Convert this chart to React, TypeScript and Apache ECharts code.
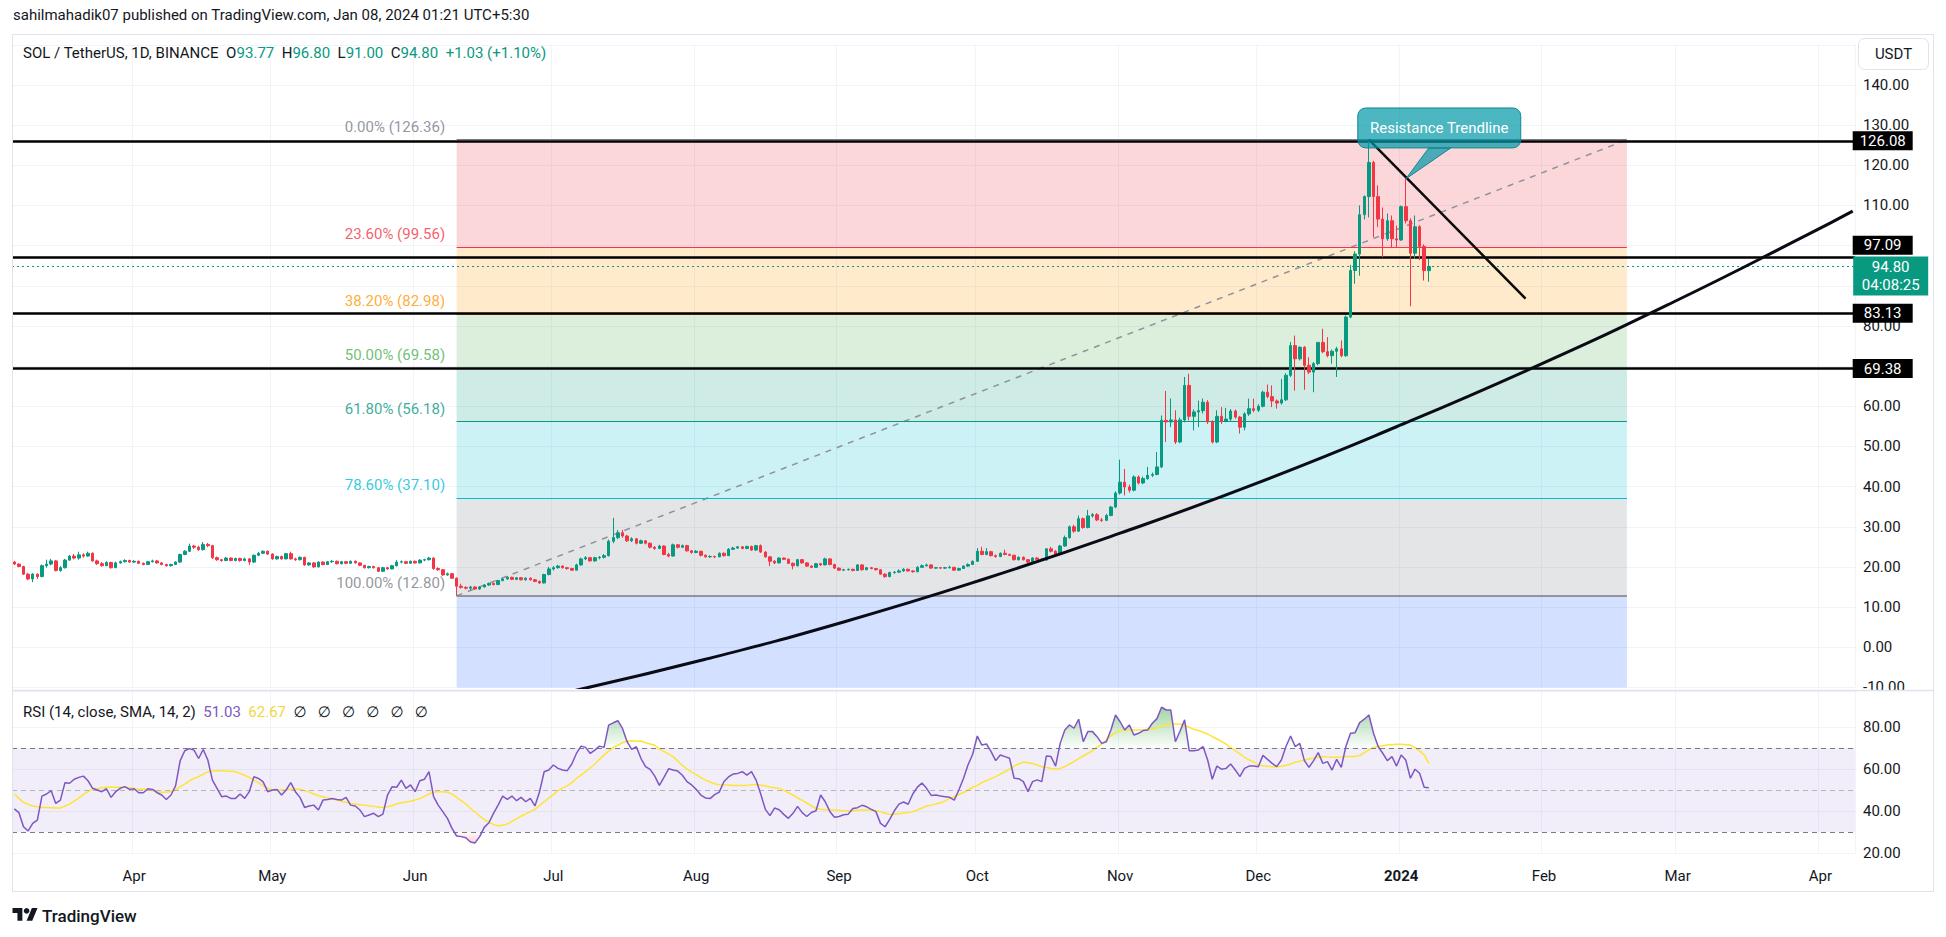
import React, { useEffect, useRef } from 'react';
import * as echarts from 'echarts';

const FONT = 'Roboto, "Noto Sans", "DejaVu Sans", sans-serif';
const TEXT = '#131722';
const UP = '#089981';
const DOWN = '#F23645';
const GRID = '#F0F3FA';

// ---------- DATA ----------
const startDate = '2023-03-06';
const dayCount = 400; // category days shown on the time axis (Mar 6 2023 .. Apr 8 2024)
const monthLabels = ['2024', 'Feb', 'Mar', 'Apr', 'May', 'Jun', 'Jul', 'Aug', 'Sep', 'Oct', 'Nov', 'Dec'];

// daily candles [open, close, low, high]
const candlesMar = [[21.2,20.7,20.5,21.5],[20.7,20.1,19.9,20.9],[20.1,18.2,18.0,20.3],[18.2,17.0,16.7,18.5],[17.0,18.2,16.2,18.5],[18.2,17.6,17.0,18.4],[17.6,20.3,17.4,20.6],[20.3,20.7,19.8,21.8],[20.7,21.5,20.4,22.0],[21.5,19.1,18.9,21.7],[19.1,19.8,18.8,20.2],[19.8,21.7,19.6,22.0],[21.7,22.7,21.5,23.0],[22.7,22.2,21.9,23.2],[22.2,23.0,21.8,23.8],[23.0,22.7,22.3,23.4],[22.7,23.4,22.5,23.8],[23.4,21.5,21.3,23.6],[21.5,20.8,20.5,21.8],[20.8,20.3,20.1,21.2],[20.3,21.1,20.2,21.4],[21.1,19.8,19.6,21.3],[19.8,21.0,19.7,21.3],[21.0,21.3,20.8,21.6],[21.3,21.6,21.1,21.9],[21.6,21.2,21.0,21.8]];
const candlesApr = [[21.2,21.4,21.0,21.7],[21.4,20.9,20.7,21.6],[20.9,20.6,20.4,21.1],[20.6,21.3,20.5,21.5],[21.3,21.5,21.1,21.8],[21.5,21.0,20.8,21.7],[21.0,20.6,20.4,21.2],[20.6,20.3,20.1,20.8],[20.3,20.6,20.1,20.8],[20.6,21.2,20.5,21.4],[21.2,23.1,21.0,23.3],[23.1,23.9,22.9,24.2],[23.9,25.2,23.7,25.8],[25.2,24.9,24.5,25.5],[24.9,24.3,24.0,25.3],[24.3,25.6,24.1,26.2],[25.6,25.3,24.9,26.0],[25.3,22.3,22.0,25.5],[22.3,21.8,21.5,22.6],[21.8,21.6,21.3,22.0],[21.6,22.2,21.4,22.5],[22.2,21.6,21.4,22.4],[21.6,22.1,21.4,22.3],[22.1,21.6,21.3,22.3],[21.6,22.0,21.4,22.3],[22.0,21.2,20.5,22.2],[21.2,22.9,21.0,23.1],[22.9,23.4,22.7,23.7],[23.4,23.9,23.2,24.1],[23.9,23.2,23.0,24.1]];
const candlesMay = [[23.2,22.0,21.8,23.4],[22.0,22.6,21.8,22.8],[22.6,22.0,21.8,22.8],[22.0,23.3,21.9,23.5],[23.3,22.0,21.8,23.8],[22.0,21.8,21.5,22.3],[21.8,22.4,21.6,22.6],[22.4,20.5,20.3,22.5],[20.5,21.0,20.3,21.2],[21.0,20.0,19.8,21.2],[20.0,21.2,19.9,21.4],[21.2,20.6,20.4,21.4],[20.6,21.3,20.5,21.5],[21.3,21.4,21.0,21.7],[21.4,20.8,20.6,21.6],[20.8,21.3,20.6,21.5],[21.3,20.9,20.7,21.5],[20.9,21.4,20.8,21.6],[21.4,21.0,20.8,21.6],[21.0,20.4,20.2,21.1],[20.4,19.8,19.6,20.5],[19.8,20.1,19.6,20.3],[20.1,19.8,19.6,20.3],[19.8,18.9,18.7,20.0],[18.9,19.8,18.8,20.0],[19.8,19.5,19.3,20.0],[19.5,20.3,19.4,20.5],[20.3,21.2,20.1,21.7],[21.2,21.3,20.9,21.6],[21.3,20.9,20.7,21.5],[20.9,21.4,20.8,21.6]];
const candlesJun = [[21.4,21.0,20.8,21.6],[21.0,21.7,20.9,21.9],[21.7,21.8,21.4,22.0],[21.8,22.2,21.6,22.5],[22.2,19.6,19.3,22.4],[19.6,19.3,19.0,19.9],[19.3,18.0,17.8,19.5],[18.0,18.3,17.8,18.6],[18.3,17.2,17.0,18.5],[17.2,15.2,12.8,17.4],[15.2,14.9,14.6,15.8],[14.9,14.7,14.4,15.2],[14.7,15.0,14.2,15.3],[15.0,14.5,14.3,15.2],[14.5,15.0,14.3,15.2],[15.0,15.5,14.9,15.7],[15.5,15.9,15.3,16.1],[15.9,15.6,15.4,16.1],[15.6,16.6,15.5,16.8],[16.6,17.0,16.4,17.3],[17.0,17.4,16.8,17.7],[17.4,16.9,16.7,17.6],[16.9,17.3,16.7,17.5],[17.3,16.8,16.6,17.5],[16.8,17.2,16.6,17.4],[17.2,16.8,16.6,17.4],[16.8,16.4,16.2,17.0],[16.4,16.0,15.8,16.6],[16.0,18.1,15.9,18.3],[18.1,19.5,17.9,20.0]];
const candlesJul = [[19.5,19.8,19.1,20.2],[19.8,20.2,19.6,20.5],[20.2,19.8,19.6,20.4],[19.8,19.6,19.3,20.0],[19.6,19.2,19.0,19.8],[19.2,20.5,19.1,20.8],[20.5,22.0,20.3,22.3],[22.0,22.3,21.7,22.7],[22.3,21.5,21.3,22.5],[21.5,22.3,21.3,22.5],[22.3,22.4,21.9,22.7],[22.4,22.8,22.1,23.2],[22.8,26.4,22.6,26.8],[26.4,27.3,25.9,32.2],[27.3,28.5,26.9,29.2],[28.5,27.7,27.3,29.2],[27.7,26.5,26.2,28.0],[26.5,27.0,26.2,27.4],[27.0,25.9,25.6,27.2],[25.9,26.5,25.7,26.8],[26.5,25.9,25.6,26.7],[25.9,24.9,24.6,26.1],[24.9,24.6,24.3,25.2],[24.6,25.2,24.4,25.5],[25.2,23.1,22.9,25.4],[23.1,22.7,22.4,23.5],[22.7,25.5,22.6,25.8],[25.5,24.9,24.6,25.7],[24.9,25.3,24.7,25.6],[25.3,24.0,23.8,25.5],[24.0,23.6,23.3,24.2]];
const candlesAug = [[23.6,23.9,23.4,24.2],[23.9,22.9,22.6,24.0],[22.9,22.5,22.3,23.1],[22.5,22.6,22.3,22.9],[22.6,22.5,22.2,22.8],[22.5,23.4,22.4,23.6],[23.4,22.8,22.6,23.6],[22.8,24.4,22.7,24.7],[24.4,24.7,24.2,25.0],[24.7,25.0,24.5,25.2],[25.0,24.6,24.4,25.2],[24.6,25.1,24.4,25.3],[25.1,24.2,24.0,25.3],[24.2,25.3,24.0,25.5],[25.3,23.7,23.5,25.6],[23.7,22.5,22.3,23.9],[22.5,21.4,20.2,22.7],[21.4,21.0,20.7,21.7],[21.0,22.2,20.9,22.4],[22.2,21.9,21.7,22.3],[21.9,20.9,20.7,22.1],[20.9,20.3,19.4,21.1],[20.3,21.8,20.1,22.0],[21.8,21.0,20.8,22.0],[21.0,20.2,20.0,21.2],[20.2,19.9,19.7,20.4],[19.9,20.8,19.8,21.0],[20.8,20.5,20.3,21.0],[20.5,22.0,20.4,22.3],[22.0,20.6,20.4,22.1],[20.6,19.7,19.5,20.8]];
const candlesSep = [[19.7,19.2,19.0,19.9],[19.2,19.3,19.0,19.5],[19.3,19.4,19.1,19.6],[19.4,19.1,18.9,19.6],[19.1,20.5,19.0,20.7],[20.5,19.3,19.1,20.6],[19.3,19.8,19.2,20.0],[19.8,19.6,19.4,20.0],[19.6,19.3,19.1,19.7],[19.3,18.2,18.0,19.4],[18.2,17.6,17.3,18.4],[17.6,18.6,17.4,18.8],[18.6,18.7,18.3,19.0],[18.7,19.0,18.5,19.4],[19.0,19.4,18.8,19.7],[19.4,19.0,18.8,19.6],[19.0,18.8,18.6,19.2],[18.8,19.9,18.7,20.2],[19.9,20.3,19.7,20.6],[20.3,20.5,20.1,20.8],[20.5,19.7,19.5,20.6],[19.7,19.8,19.5,20.0],[19.8,19.7,19.5,20.0],[19.7,19.8,19.5,20.0],[19.8,19.9,19.6,20.3],[19.9,19.2,19.0,20.0],[19.2,19.6,19.0,19.8],[19.6,20.2,19.5,20.4],[20.2,20.6,20.0,20.9],[20.6,21.4,20.5,21.6]];
const candlesOct = [[21.4,23.9,21.3,24.7],[23.9,23.1,22.9,25.0],[23.1,23.8,22.9,24.7],[23.8,22.8,22.6,24.0],[22.8,22.6,22.3,23.1],[22.6,23.4,22.4,23.6],[23.4,23.1,22.9,24.3],[23.1,22.9,22.7,23.3],[22.9,21.8,21.6,23.0],[21.8,22.4,21.6,22.6],[22.4,21.8,21.6,22.6],[21.8,21.2,20.9,21.9],[21.2,22.2,21.0,22.4],[22.2,21.9,21.7,22.4],[21.9,21.7,21.5,22.1],[21.7,24.5,21.5,24.7],[24.5,23.9,23.6,25.0],[23.9,23.1,22.9,24.2],[23.1,25.2,22.9,25.5],[25.2,27.3,25.0,27.8],[27.3,30.0,27.0,30.3],[30.0,28.9,28.5,30.5],[28.9,32.0,28.7,32.8],[32.0,29.8,29.5,32.3],[29.8,32.7,29.6,34.2],[32.7,33.0,32.3,33.4],[33.0,31.7,31.4,33.4],[31.7,31.6,31.2,32.2],[31.6,32.8,31.4,33.2],[32.8,34.9,32.6,35.2],[34.9,38.4,34.6,38.8]];
const candlesNov = [[38.4,41.1,38.0,46.7],[41.1,39.9,37.8,44.4],[39.9,39.1,38.5,40.5],[39.1,42.4,38.8,42.8],[42.4,40.9,40.5,42.8],[40.9,42.0,40.6,42.5],[42.0,42.8,41.7,44.9],[42.8,43.0,42.4,43.5],[43.0,44.9,42.8,48.6],[44.9,56.5,44.6,57.7],[56.5,56.1,51.1,63.8],[56.1,56.6,54.8,61.9],[56.6,51.1,50.6,59.0],[51.1,56.6,50.8,57.2],[56.6,65.2,56.0,67.3],[65.2,57.5,56.5,68.1],[57.5,58.6,54.0,59.2],[58.6,58.9,54.8,61.4],[58.9,61.0,58.2,61.9],[61.0,56.1,55.6,61.5],[56.1,51.1,50.7,56.5],[51.1,57.5,50.8,59.0],[57.5,56.3,55.6,59.8],[56.3,56.8,56.0,59.6],[56.8,58.8,56.3,59.3],[58.8,57.3,56.9,59.2],[57.3,54.8,53.2,57.6],[54.8,58.1,54.0,58.5],[58.1,59.4,57.6,61.9],[59.4,59.0,58.5,61.9]];
const candlesDec = [[59.0,60.0,58.6,60.5],[60.0,63.5,59.7,63.9],[63.5,62.4,62.0,65.4],[62.4,61.3,59.8,65.2],[61.3,60.8,59.4,61.7],[60.8,61.6,60.4,66.8],[61.6,67.7,61.3,68.2],[67.7,75.1,67.3,76.0],[75.1,71.8,63.9,77.6],[71.8,74.7,71.4,74.9],[74.7,70.2,64.1,75.0],[70.2,68.5,68.0,72.2],[68.5,70.6,63.5,71.0],[70.6,75.9,70.2,76.0],[75.9,73.6,73.2,79.3],[73.6,72.6,72.2,77.2],[72.6,73.7,70.6,74.1],[73.7,74.3,67.3,74.8],[74.3,72.6,72.2,76.4],[72.6,82.2,72.3,82.6],[82.2,93.8,81.9,95.2],[93.8,97.9,90.5,98.6],[97.9,107.7,92.5,110.0],[107.7,112.2,106.5,112.5],[112.2,120.7,107.0,126.36],[120.7,112.2,102.1,121.1],[112.2,106.6,104.6,115.0],[106.6,101.7,97.1,109.5],[101.7,106.2,101.2,108.0],[106.2,101.7,99.6,107.5],[101.7,101.4,99.6,105.0]];
const candlesJan = [[101.4,109.7,101.2,110.0],[109.7,106.2,105.5,116.6],[106.2,98.1,84.9,106.8],[98.1,104.7,96.7,107.5],[104.7,99.8,96.4,105.1],[99.8,93.77,91.3,100.3],[93.77,94.80,91.00,96.80]];

const rsiMar = [41,39.2,32.5,30.5,34.1,35.7,47.1,48.1,49.7,43.6,45.2,53.5,53.2,55.1,56,56.6,54.4,50.8,50,49.2,50.6,46.5,49.2,50.8,51.6,50.3];
const rsiApr = [50.6,48.7,48.7,50.6,50.3,48.7,47.6,45.5,47.6,52,64,68.7,69.7,69,65,69.3,64.3,54.7,50.8,46.8,47.1,46,46,48.1,46,49.2,56.3,55.5,53.9,49.2];
const rsiMay = [50,50.3,47.6,50,53.5,49.2,46.5,41.7,42.4,42.8,40.5,45.2,45.5,46,45.5,45.2,46.5,42.8,42.4,40.5,37.3,38.1,38.9,37.3,38.5,47.6,51.6,51.3,54.7,50.8,52.4];
const rsiJun = [49.2,54.4,55.1,58.7,46.8,42.8,39.7,36.5,31.7,28.1,27.8,27.3,25.2,24.8,27.8,32.2,34.4,38.9,42.8,47.1,45.5,47.1,44.9,46.5,44.4,46,42.4,49.2,58.7,59.5];
const rsiJul = [61.9,60.3,59.5,59.2,62.4,67.4,70.9,70.3,67.4,69,70.9,70.3,80.9,82,83,79.3,73,69.3,70.6,65.1,61.1,59.8,56.6,52.2,56,60.1,59.5,59,57,54,52.4];
const rsiAug = [50.3,47.6,46.2,45.9,47.8,49,53.9,56.2,57.6,57.9,58.7,57.1,58.7,54.7,48.1,40.8,37.8,41.4,40.6,38.4,36.5,38.9,42.2,39.2,37.4,39.3,40.1,47.6,44.4,39.8,37];
const rsiSep = [37.4,38.2,38.5,41.2,41.6,42.7,42,40.8,39.7,34.1,32.5,36,40.1,43.3,44.3,43.2,48.1,51.4,53.3,50.8,47.4,47.6,47.1,46.8,46.5,45.2,50,55.5,62,67];
const rsiOct = [75.7,71.4,71.9,68.3,64,66.7,65.9,65.1,55.6,55.4,54,49.2,54,54.8,54,66.2,65.9,61.4,72.2,78.6,81,79.4,83.7,73,77.8,77.8,75.4,72.2,73,78.6,85.7];
const rsiNov = [82.5,78.6,81,76.2,77,78.3,78.6,81.8,84,89.4,88.1,88.1,73,78,83.4,68.7,68.7,69.1,70.7,64.3,55.1,61.4,59.9,60.3,62.4,59.5,56.4,60.3,61.4,61.4];
const rsiDec = [61.1,66.5,64.6,62.7,61.1,64.3,70.7,75.7,70.7,72.2,64,60.8,64,67.8,62.7,63.5,59.5,64.6,60.8,70.7,77,77.3,82.1,83.7,85.7,77,70.7,67.5,64,65.9,61.4];
const rsiJan = [66.7,64.3,55.6,59.9,58,51.3,51.03];

const smaMar = [48.1,46,44.1,43.2,42.4,42,41.7,41.7,41.6,41.4,41.4,42.4,43.3,44.7,46.3,47.9,49.2,50.3,50.6,51.1,51.3,51.3,51.3,51.3,51.3,51.1];
const smaApr = [50.6,50.3,50.3,50.3,49.7,49.2,48.9,48.9,49.3,50,51.6,52.8,54.3,55.5,56.3,57.6,58.6,59,59.2,59.2,59,58.9,58.7,57.9,57,56,54.7,53.5,52,50.9];
const smaMay = [50,50,50,50.1,50.3,50.3,50.3,49.7,49,48.1,47.3,46.8,46.2,45.7,45.2,44.6,44.1,43.6,43.3,43,42.8,42.5,42.2,41.9,41.7,42,42.5,43.5,43.9,44.3,44.6];
const smaJun = [45.2,45.9,47,48.1,49,49.2,49.2,48.9,48.1,46.5,44.9,43.3,41.2,39.5,37.6,36,34.6,33.6,33,33.2,33.8,35.1,36.3,37.6,38.6,39.7,40.8,42.7,44.3,46.2];
const smaJul = [47.8,49.7,50.9,52,53.5,55.5,57.1,58.7,60.6,62.4,64.6,66.6,68.5,70.3,71.4,72.5,73.2,73.5,73.2,73.3,72.5,71.9,71.3,69.5,68.4,67.1,65.9,63.8,61.7,60.1,58.5];
const smaAug = [57.3,55.9,54.7,53.8,53,52.5,52.4,52.4,52.2,52.1,52.1,52.2,52.5,52.5,52.4,51.9,51.4,51.1,50.8,49.8,48.7,47.6,46.3,45.1,43.8,42.4,41.3,40.8,40.6,40.5,40.5];
const smaSep = [40.3,40.1,40.1,40.1,40.3,40.5,40.5,40.5,40.1,39.7,38.9,38.4,38.4,38.7,39,39.3,39.7,40.5,41.4,42.4,42.8,43.3,43.9,44.7,46,46.8,47.8,48.8,50,51.3];
const smaOct = [52.2,53.5,54.5,55.4,56.4,57.6,58.7,59.9,61.4,62.4,63.3,63,62.6,61.9,61.1,60.7,60.2,60,60.3,61.1,62.4,63.5,64.9,66.2,67.5,68.7,70.3,71.9,73.8,75.9,77.3];
const smaNov = [78.3,78.4,78.6,78.6,78.6,78.6,78.9,79.1,79.5,80.2,81.1,81.6,81.4,81.3,80.7,79.9,78.9,78.3,77.5,76.7,75.4,74.3,73.2,71.8,70.2,68.7,67.2,65.6,64.3,63.4];
const smaDec = [61.9,61.6,61.3,61.1,61.1,61.3,61.8,62.4,63.2,63.7,64.3,64.8,65.3,65.6,65.9,65.7,65.6,65.6,65.7,65.9,65.9,66,66.4,67.8,69.1,70.3,70.8,71.1,71.4,71.6,71.8];
const smaJan = [71.8,71.6,71.4,70.2,68.6,66.7,62.67];

// Fibonacci retracement (Jun 10 2023 low -> Dec 25 2023 high)
const fibStart = '2023-06-10';
const fibEnd = '2024-02-19';
const fibPct = ['0.00%', '23.60%', '38.20%', '50.00%', '61.80%', '78.60%', '100.00%'];
const fibPrice = [126.36, 99.56, 82.98, 69.58, 56.18, 37.10, 12.80];
const fibColor = ['#787B86', '#F23645', '#FF9800', '#4CAF50', '#089981', '#00BCD4', '#787B86'];
const fibExtColor = '#2962FF';

// user-drawn horizontal levels
const userLevels = [126.08, 97.09, 83.13, 69.38];
const lastPrice = 94.80;
const countdown = '04:08:25';

// trend lines
const resistanceLine = [['2023-12-25', 126.36], ['2024-01-28', 86.8]];
const supportCurve = [['2023-07-04', -11.2], ['2023-08-03', -3.0], ['2023-09-02', 6.3], ['2023-10-02', 16.8], ['2023-11-01', 28.4], ['2023-12-01', 41.0], ['2023-12-31', 54.9], ['2024-01-30', 69.8], ['2024-02-29', 85.9], ['2024-03-29', 102.6], ['2024-04-08', 108.6]];

const callout = { date: '2024-01-02', price: 116.6, text: 'Resistance Trendline' };

const headerText = 'sahilmahadik07 published on TradingView.com, Jan 08, 2024 01:21 UTC+5:30';
const ohlc = { o: '93.77', h: '96.80', l: '91.00', c: '94.80', chg: '+1.03 (+1.10%)' };
const rsiLegend = { name: 'RSI (14, close, SMA, 14, 2)', rsi: '51.03', ma: '62.67' };

// ---------- BUILD ----------
const candles = [...candlesMar, ...candlesApr, ...candlesMay, ...candlesJun, ...candlesJul, ...candlesAug, ...candlesSep, ...candlesOct, ...candlesNov, ...candlesDec, ...candlesJan];
const rsi = [...rsiMar, ...rsiApr, ...rsiMay, ...rsiJun, ...rsiJul, ...rsiAug, ...rsiSep, ...rsiOct, ...rsiNov, ...rsiDec, ...rsiJan];
const rsiMa = [...smaMar, ...smaApr, ...smaMay, ...smaJun, ...smaJul, ...smaAug, ...smaSep, ...smaOct, ...smaNov, ...smaDec, ...smaJan];

const dates: string[] = (() => {
  const [y, m, d] = startDate.split('-').map(Number);
  const t0 = Date.UTC(y, m - 1, d);
  const out: string[] = [];
  for (let k = 0; k < dayCount; k++) out.push(new Date(t0 + k * 86400000).toISOString().slice(0, 10));
  return out;
})();

const rgba = (hex: string, a: number) => {
  const n = parseInt(hex.slice(1), 16);
  return `rgba(${(n >> 16) & 255},${(n >> 8) & 255},${n & 255},${a})`;
};

const isMonthStart = (_i: number, v: string) => v.slice(8) === '01';
const monthFormatter = (v: string) => {
  const m = Number(v.slice(5, 7));
  return m === 1 ? `{b|${monthLabels[0]}}` : monthLabels[m - 1];
};

const hiddenPriceLabels = [150, 100, 90, 70];

echarts.graphic.registerShape(
  'tvlogo',
  echarts.graphic.extendPath('M14 22H7V11H0V4h14v18zM28 22h-8l7.5-18h8L28 22z', {})
);

function buildOption(): any {
  const fibZones = fibPrice.map((p, k) => {
    const last = k === fibPrice.length - 1;
    const bottom = last ? -10 : fibPrice[k + 1];
    const color = last ? fibExtColor : fibColor[k + 1];
    return [{ coord: [fibStart, p], itemStyle: { color: rgba(color, 0.2) } }, { coord: [fibEnd, bottom] }];
  });
  const fibLines = fibPrice.map((p, k) => [
    { coord: [fibStart, p], lineStyle: { color: fibColor[k], width: k === fibPrice.length - 1 ? 1.6 : 1.2, type: 'solid' } },
    { coord: [fibEnd, p] },
  ]);
  const lastDate = dates[dates.length - 1];
  const tagShift: Record<string, number> = { '97.09': -12 };
  const tags: any[] = userLevels.map((v) => ({
    coord: [lastDate, v],
    symbol: 'rect',
    symbolSize: [60, 19],
    symbolOffset: [30, tagShift[v.toFixed(2)] || 0],
    itemStyle: { color: '#000' },
    label: { show: true, position: 'inside', formatter: v.toFixed(2), color: '#fff', fontSize: 15, fontFamily: FONT },
  }));
  tags.push({
    coord: [lastDate, lastPrice],
    symbol: 'rect',
    symbolSize: [75, 39],
    symbolOffset: [38, 9.5],
    itemStyle: { color: UP },
    label: { show: true, position: 'inside', formatter: `${lastPrice.toFixed(2)}\n${countdown}`, color: '#fff', fontSize: 15, lineHeight: 18, fontFamily: FONT },
  });

  return {
    animation: false,
    backgroundColor: '#fff',
    grid: [
      { left: 12, top: 44.8, width: 1843, height: 642.6, outerBoundsMode: 'none', containLabel: false },
      { left: 12, top: 691.3, width: 1843, height: 161.7, outerBoundsMode: 'none', containLabel: false },
    ],
    xAxis: [
      {
        gridIndex: 0, type: 'category', data: dates, boundaryGap: true,
        axisLine: { show: false }, axisTick: { show: false }, axisLabel: { show: false },
        splitLine: { show: true, interval: isMonthStart, lineStyle: { color: GRID, width: 1 } },
      },
      {
        gridIndex: 1, type: 'category', data: dates, boundaryGap: true,
        axisLine: { show: false }, axisTick: { show: false },
        axisLabel: {
          show: true, interval: isMonthStart, formatter: monthFormatter, color: TEXT, fontSize: 15, fontFamily: FONT, margin: 15,
          rich: { b: { fontWeight: 'bold', color: TEXT, fontSize: 15, fontFamily: FONT } },
        },
        splitLine: { show: true, interval: isMonthStart, lineStyle: { color: GRID, width: 1 } },
      },
    ],
    yAxis: [
      {
        gridIndex: 0, type: 'value', position: 'right', min: -10, max: 150, interval: 10,
        axisLine: { show: false }, axisTick: { show: false },
        splitLine: { show: true, lineStyle: { color: GRID, width: 1 } },
        axisLabel: {
          color: TEXT, fontSize: 15, fontFamily: FONT, margin: 8, showMaxLabel: false,
          formatter: (v: number) => (hiddenPriceLabels.includes(v) ? '' : v.toFixed(2)),
        },
      },
      {
        gridIndex: 1, type: 'value', position: 'right', min: 20, max: 97, interval: 20,
        axisLine: { show: false }, axisTick: { show: false },
        splitLine: { show: true, lineStyle: { color: GRID, width: 1 } },
        axisLabel: { color: TEXT, fontSize: 15, fontFamily: FONT, margin: 8, showMaxLabel: false, formatter: (v: number) => v.toFixed(2) },
      },
    ],
    series: [
      {
        name: 'fib', type: 'line', xAxisIndex: 0, yAxisIndex: 0, data: [], z: 1, silent: true,
        markArea: { silent: true, data: fibZones },
        markLine: { silent: true, symbol: ['none', 'none'], label: { show: false }, data: fibLines },
      },
      {
        name: 'fibTrend', type: 'line', xAxisIndex: 0, yAxisIndex: 0, z: 2, silent: true,
        data: [[fibStart, fibPrice[fibPrice.length - 1]], [fibEnd, fibPrice[0]]],
        symbol: 'none', lineStyle: { color: '#8F929C', width: 1.5, type: [6, 6] },
      },
      {
        name: 'fibLabels', type: 'scatter', xAxisIndex: 0, yAxisIndex: 0, z: 4, silent: true, symbolSize: 1,
        itemStyle: { color: 'rgba(0,0,0,0)' },
        data: fibPrice.map((p, k) => ({
          name: `${fibPct[k]} (${p.toFixed(2)})`,
          value: [fibStart, p],
          label: { color: fibColor[k] },
        })),
        label: { show: true, position: 'left', distance: 11, offset: [0, -13], formatter: '{b}', fontSize: 15, fontFamily: FONT },
      },
      {
        name: 'SOL', type: 'candlestick', xAxisIndex: 0, yAxisIndex: 0, data: candles, barWidth: 3, z: 5, silent: true,
        itemStyle: { color: UP, color0: DOWN, borderColor: UP, borderColor0: DOWN, borderWidth: 1 },
      },
      {
        name: 'support', type: 'line', xAxisIndex: 0, yAxisIndex: 0, data: supportCurve, smooth: 0.5,
        symbol: 'none', z: 6, silent: true, lineStyle: { color: '#0b0b16', width: 3 },
      },
      {
        name: 'resistance', type: 'line', xAxisIndex: 0, yAxisIndex: 0, data: resistanceLine,
        symbol: 'none', z: 6, silent: true, lineStyle: { color: '#0b0b0b', width: 2.5 },
      },
      {
        name: 'levels', type: 'line', xAxisIndex: 0, yAxisIndex: 0, data: [], z: 7, silent: true,
        markLine: {
          silent: true, symbol: ['none', 'none'], label: { show: false },
          data: [
            ...userLevels.map((v) => ({ yAxis: v, lineStyle: { color: '#000', width: 2.5, type: 'solid' } })),
            { yAxis: lastPrice, lineStyle: { color: UP, width: 1, type: [2, 3] } },
          ],
        },
        markPoint: { silent: true, data: tags },
      },
      {
        name: 'obFill', type: 'line', xAxisIndex: 1, yAxisIndex: 1, z: 3, silent: true, symbol: 'none',
        data: rsi.map((v) => Math.max(v, 70)),
        lineStyle: { width: 0 },
        areaStyle: {
          origin: 70,
          color: new echarts.graphic.LinearGradient(0, 0, 0, 1, [
            { offset: 0, color: 'rgba(76,175,80,0.75)' },
            { offset: 1, color: 'rgba(76,175,80,0.02)' },
          ]),
        },
      },
      {
        name: 'osFill', type: 'line', xAxisIndex: 1, yAxisIndex: 1, z: 3, silent: true, symbol: 'none',
        data: rsi.map((v) => Math.min(v, 30)),
        lineStyle: { width: 0 },
        areaStyle: {
          origin: 30,
          color: new echarts.graphic.LinearGradient(0, 0, 0, 1, [
            { offset: 0, color: 'rgba(242,54,69,0.02)' },
            { offset: 1, color: 'rgba(242,54,69,0.35)' },
          ]),
        },
      },
      {
        name: 'RSI', type: 'line', xAxisIndex: 1, yAxisIndex: 1, data: rsi, symbol: 'none', z: 5, silent: true,
        lineStyle: { color: '#7E57C2', width: 1.5 },
        markArea: { silent: true, itemStyle: { color: 'rgba(126,87,194,0.1)' }, data: [[{ yAxis: 70 }, { yAxis: 30 }]] },
        markLine: {
          silent: true, symbol: ['none', 'none'], label: { show: false },
          data: [
            { yAxis: 70, lineStyle: { color: '#787B86', width: 1, type: [5, 4] } },
            { yAxis: 50, lineStyle: { color: 'rgba(120,123,134,0.5)', width: 1, type: [5, 4] } },
            { yAxis: 30, lineStyle: { color: '#787B86', width: 1, type: [5, 4] } },
          ],
        },
      },
      {
        name: 'RSI MA', type: 'line', xAxisIndex: 1, yAxisIndex: 1, data: rsiMa, symbol: 'none', z: 4, silent: true,
        lineStyle: { color: '#FFE433', width: 1.5 },
      },
    ],
  };
}

function buildGraphics(tip: number[]): any[] {
  const g: any[] = [];
  // white cover that clips the bottom price label at the pane border
  g.push({ type: 'rect', z: 50, shape: { x: 1857, y: 691, width: 76, height: 9 }, style: { fill: '#fff' } });
  // frame and pane separator
  g.push({ type: 'rect', z: 51, shape: { x: 12.5, y: 34.5, width: 1921, height: 857 }, style: { fill: 'none', stroke: '#E0E3EB', lineWidth: 1 } });
  g.push({ type: 'line', z: 51, shape: { x1: 12, y1: 690.5, x2: 1934, y2: 690.5 }, style: { stroke: '#E0E3EB', lineWidth: 1.5 } });
  // currency box
  g.push({ type: 'rect', z: 52, shape: { x: 1858.5, y: 38.5, width: 70, height: 31, r: 6 }, style: { fill: '#fff', stroke: '#E0E3EB', lineWidth: 1 } });
  g.push({ type: 'text', z: 53, x: 1893.5, y: 54, style: { text: 'USDT', fill: TEXT, font: `15px ${FONT}`, align: 'center', verticalAlign: 'middle' } });
  // header
  g.push({ type: 'text', z: 53, x: 13, y: 15, style: { text: headerText, fill: TEXT, font: `15px ${FONT}`, align: 'left', verticalAlign: 'middle' } });
  // symbol legend
  g.push({
    type: 'text', z: 53, x: 23, y: 53,
    style: {
      text: `{d|SOL / TetherUS, 1D, BINANCE  O}{g|${ohlc.o}}{d|  H}{g|${ohlc.h}}{d|  L}{g|${ohlc.l}}{d|  C}{g|${ohlc.c}}{g|  ${ohlc.chg}}`,
      align: 'left', verticalAlign: 'middle',
      rich: {
        d: { fill: TEXT, fontSize: 15, fontFamily: FONT },
        g: { fill: UP, fontSize: 15, fontFamily: FONT },
      },
    },
  });
  // RSI legend
  g.push({
    type: 'text', z: 53, x: 23, y: 712,
    style: {
      text: `{d|${rsiLegend.name}  }{p|${rsiLegend.rsi}}{d|  }{y|${rsiLegend.ma}}{d|  ∅   ∅   ∅   ∅   ∅   ∅}`,
      align: 'left', verticalAlign: 'middle',
      rich: {
        d: { fill: TEXT, fontSize: 15, fontFamily: FONT },
        p: { fill: '#7E57C2', fontSize: 15, fontFamily: FONT },
        y: { fill: '#F5D63D', fontSize: 15, fontFamily: FONT },
      },
    },
  });
  // TradingView logo
  g.push({ type: 'tvlogo', z: 53, x: 12.5, y: 905.2, scaleX: 0.705, scaleY: 0.705, style: { fill: TEXT } });
  g.push({ type: 'circle', z: 53, shape: { cx: 12.5 + 20 * 0.705, cy: 905.2 + 8 * 0.705, r: 4 * 0.705 }, style: { fill: TEXT } });
  g.push({ type: 'text', z: 53, x: 42, y: 916, style: { text: 'TradingView', fill: TEXT, font: `500 17px ${FONT}`, align: 'left', verticalAlign: 'middle' } });
  // callout
  const [tx, ty] = tip;
  const bx = tx - 48, by = ty - 71, bw = 163, bh = 40;
  g.push({
    type: 'polygon', z: 54,
    shape: { points: [[tx, ty], [tx + 23, by + bh], [tx + 45, by + bh]] },
    style: { fill: 'rgba(0,151,167,0.7)', stroke: 'rgba(0,131,143,0.9)', lineWidth: 1 },
  });
  g.push({
    type: 'rect', z: 54, shape: { x: bx, y: by, width: bw, height: bh, r: 8 },
    style: { fill: 'rgba(0,151,167,0.7)', stroke: 'rgba(0,131,143,0.9)', lineWidth: 1 },
  });
  g.push({ type: 'text', z: 55, x: bx + bw / 2, y: by + bh / 2, style: { text: callout.text, fill: '#fff', font: `15px ${FONT}`, align: 'center', verticalAlign: 'middle' } });
  return g;
}

export default function App() {
  const ref = useRef<HTMLDivElement>(null);
  useEffect(() => {
    if (!ref.current) return;
    const chart = echarts.init(ref.current, undefined, { renderer: 'svg' });
    chart.setOption(buildOption());
    const idx = dates.indexOf(callout.date);
    const tip = chart.convertToPixel({ gridIndex: 0 } as any, [idx, callout.price]) as number[];
    chart.setOption({ graphic: buildGraphics(tip) });
    return () => chart.dispose();
  }, []);
  return <div ref={ref} style={{ position: 'fixed', left: 0, top: 0, width: 1946, height: 937, background: '#fff' }} />;
}
